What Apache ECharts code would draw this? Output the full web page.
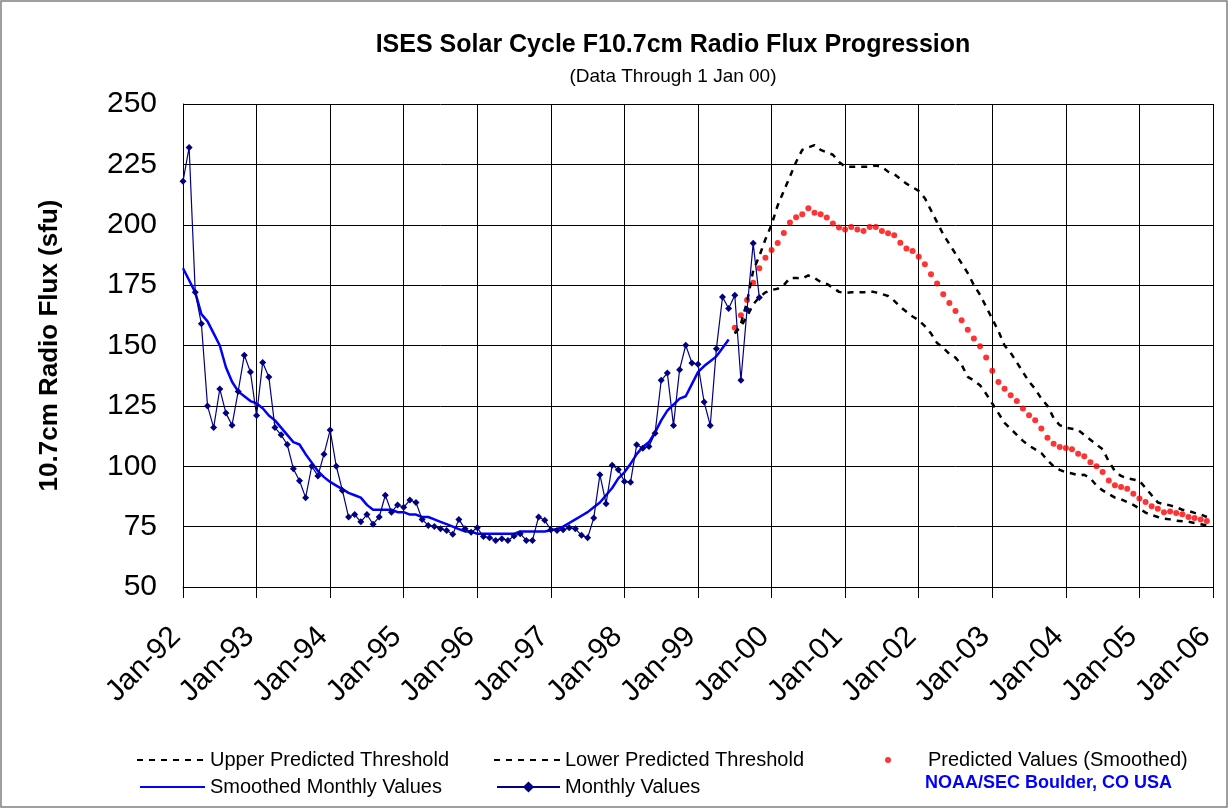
<!DOCTYPE html>
<html>
<head>
<meta charset="utf-8">
<title>ISES Solar Cycle F10.7cm Radio Flux Progression</title>
<script src="https://cdn.jsdelivr.net/npm/echarts@6/dist/echarts.min.js"></script>
<style>
  html, body { margin: 0; padding: 0; background: #fff; }
  #chart { width: 1230px; height: 810px; }
</style>
</head>
<body>
<div id="chart"></div>
<script>
// x axis: months counted from Jan-92, one label per year
var tickLabels = ['Jan-92', 'Jan-93', 'Jan-94', 'Jan-95', 'Jan-96', 'Jan-97', 'Jan-98',
    'Jan-99', 'Jan-00', 'Jan-01', 'Jan-02', 'Jan-03', 'Jan-04', 'Jan-05', 'Jan-06'];

// monthly observed flux, Jan-92 .. Nov-99
var monthly = [
    218, 232, 172, 159, 125, 116, 132, 122, 117, 131,
    146, 139, 121, 143, 137, 116, 113, 109, 99, 94,
    87, 100, 96, 105, 115, 100, 90, 79, 80, 77,
    80, 76, 79, 88, 81, 84, 83, 86, 85, 78,
    75.5, 75.1, 74.1, 73.4, 71.8, 78, 74.1, 72.7, 74.5, 70.9,
    70.4, 69.3, 70, 69.3, 71.1, 72.1, 69.3, 69.3, 79, 77.6,
    73.7, 73.4, 73.7, 74.5, 74.1, 71.4, 70.4, 78.6, 96.5, 84.5,
    100.4, 98.6, 93.7, 93.4, 108.9, 107.5, 108.2, 113.7, 135.6, 138.6,
    116.9, 140, 150.1, 142.8, 142.2, 126.6, 116.9, 148.7, 170.1, 165.3,
    170.8, 135.6, 164.9, 192.3, 169.9
];

// smoothed monthly values, Jan-92 .. Jun-99
var smoothed = [
    182, 177, 172, 163, 160, 155, 150, 141, 135, 131,
    129, 127, 126, 124, 121, 119, 116, 113, 110, 109,
    105, 101.5, 98, 95.5, 93.5, 92, 90.5, 89, 88, 87,
    84, 82, 82, 82, 82, 81, 81, 80, 80, 79,
    79, 78, 77, 76, 75, 74, 73, 73, 72, 72,
    72, 72, 72, 72, 72, 73, 73, 73, 73, 73,
    73.5, 74, 75, 76.5, 78, 79.5, 81, 83, 85, 88,
    91, 95, 97.5, 101, 105, 108, 110, 114, 119, 123,
    125.5, 128, 129, 134, 139, 141.5, 143.5, 145.5, 149, 152.5
];

// predictions start at Jul-99 (month 90)
var predStart = 90;

var predicted = [
    157.4, 162.5, 168.8, 176, 182, 186.3, 189.5, 192.4, 196.6, 200.9,
    203.1, 204.3, 206.8, 205, 204.3, 203, 200.5, 198.9, 198, 199.1,
    198, 197.4, 199.1, 199.1, 197.4, 196.5, 195.7, 192.5, 190.2, 189.1,
    186.7, 183.6, 179.5, 175.7, 171.2, 167.6, 164.3, 160.5, 156.5, 152.9,
    149.7, 145, 139.5, 134.9, 132.1, 129.4, 127, 123.9, 121.1, 119,
    115.6, 111.8, 109.3, 108, 107.6, 107, 105.2, 104.1, 101.7, 100,
    97.6, 94.1, 92.1, 91.4, 90.7, 88.6, 86.6, 85.2, 83.4, 82.4,
    81, 81.3, 80.6, 80.1, 79, 78.6, 77.9, 77.3
];

var upper = [
    155, 159, 168, 181, 187, 194, 200, 208, 214, 220,
    226, 231, 232, 233, 231, 230, 229, 226, 224, 224,
    224, 224, 224, 224.5, 224, 222, 221, 219, 217, 215.5,
    214, 211, 206, 201, 196, 192, 188, 184, 180, 175,
    171, 166, 161, 156, 150, 147, 143, 139, 135, 132,
    128, 125, 120, 117, 116, 115.5, 115, 113, 111, 109,
    107, 102, 98, 96, 95, 94.5, 94, 91, 88, 85,
    84.3, 83.8, 83, 82, 81.5, 80.7, 80, 79
];

var lower = [
    155, 158, 162, 167, 170, 172, 173, 173.5, 175, 178,
    178, 177.7, 179, 178, 176.3, 175.5, 174, 172.2, 171.8, 172,
    172, 172, 172.5, 172, 171.3, 170.5, 168.5, 166, 164, 162,
    160.5, 158, 155, 151, 149, 146.5, 145, 142, 137, 135.5,
    133.5, 130, 126, 122, 118, 115.5, 113, 110.5, 108.5, 107,
    105.5, 102.5, 100, 98.5, 97.5, 97, 96.3, 96.5, 95, 92,
    90, 88.5, 87, 86.3, 85.2, 84, 82.5, 80.8, 79.8, 79,
    78.3, 78, 77.5, 77.2, 77, 76.5, 76, 75.5
];

function pairs(arr, start) {
    return arr.map(function (v, i) { return [start + i, v]; });
}

var FONT = 'Liberation Sans, Arial, sans-serif';

var myChart = echarts.init(document.getElementById('chart'));

var legendText = { fontFamily: FONT, fontSize: 20, color: '#000' };
// line-only legend icons (no symbol in the middle)
var noDot = { opacity: 0 };

var option = {
    animation: false,
    backgroundColor: '#fff',
    title: {
        text: 'ISES Solar Cycle F10.7cm Radio Flux Progression',
        subtext: '(Data Through 1 Jan 00)',
        left: 668,
        top: 28,
        textAlign: 'center',
        itemGap: 9,
        textStyle: { fontFamily: FONT, fontSize: 25, fontWeight: 'bold', color: '#000' },
        subtextStyle: { fontFamily: FONT, fontSize: 19, color: '#000' }
    },
    grid: { left: 183, right: 17, top: 104, bottom: 223 },
    legend: [
        { data: ['Upper Predicted Threshold'], left: 131, top: 745, itemWidth: 68, itemHeight: 14, itemStyle: noDot, textStyle: legendText, selectedMode: false },
        { data: ['Lower Predicted Threshold'], left: 488, top: 745, itemWidth: 66, itemHeight: 14, itemStyle: noDot, textStyle: legendText, selectedMode: false },
        { data: ['Predicted Values (Smoothed)'], left: 880, top: 745, itemWidth: 70, itemHeight: 6, textStyle: legendText, selectedMode: false },
        { data: ['Smoothed Monthly Values'], left: 134, top: 772, itemWidth: 65, itemHeight: 14, itemStyle: noDot, textStyle: legendText, selectedMode: false },
        { data: ['Monthly Values'], left: 491, top: 772, itemWidth: 63, itemHeight: 14, textStyle: legendText, selectedMode: false }
    ],
    graphic: [
        {
            type: 'rect',
            shape: { x: 1, y: 1, width: 1226, height: 806 },
            style: { fill: 'none', stroke: '#7f7f7f', lineWidth: 1.5 },
            silent: true
        },
        {
            type: 'text',
            left: 925,
            top: 774,
            style: {
                text: 'NOAA/SEC Boulder, CO USA',
                fill: '#0000ff',
                font: 'bold 18px Liberation Sans, Arial, sans-serif'
            }
        }
    ],
    xAxis: {
        type: 'value',
        min: 0,
        max: 168,
        interval: 12,
        axisLine: { show: true, lineStyle: { color: '#000', width: 1 } },
        axisTick: { show: true, length: 11, lineStyle: { color: '#000' } },
        splitLine: { show: true, lineStyle: { color: '#000', width: 1 } },
        axisLabel: {
            rotate: 45,
            margin: 38,
            padding: [0, 10, 0, 0],
            fontFamily: FONT,
            fontSize: 30,
            color: '#000',
            formatter: function (v) { return tickLabels[v / 12]; }
        }
    },
    yAxis: {
        type: 'value',
        min: 50,
        max: 250,
        interval: 25,
        name: '10.7cm Radio Flux (sfu)',
        nameLocation: 'middle',
        nameRotate: 90,
        nameGap: 120,
        nameTextStyle: { fontFamily: FONT, fontSize: 26, fontWeight: 'bold', color: '#000' },
        axisLine: { show: true, lineStyle: { color: '#000', width: 1 } },
        axisTick: { show: false },
        splitLine: { show: true, lineStyle: { color: '#000', width: 1 } },
        axisLabel: { margin: 26, fontFamily: FONT, fontSize: 30, color: '#000' }
    },
    series: [
        {
            name: 'Upper Predicted Threshold',
            type: 'line',
            data: pairs(upper, predStart),
            symbol: 'none',
            lineStyle: { color: '#000', width: 2.5, type: [6, 6] },
            itemStyle: { color: '#000' }
        },
        {
            name: 'Lower Predicted Threshold',
            type: 'line',
            data: pairs(lower, predStart),
            symbol: 'none',
            lineStyle: { color: '#000', width: 2.5, type: [6, 6] },
            itemStyle: { color: '#000' }
        },
        {
            name: 'Predicted Values (Smoothed)',
            type: 'scatter',
            data: pairs(predicted, predStart),
            symbol: 'circle',
            symbolSize: 6,
            itemStyle: { color: '#ff0000' }
        },
        {
            name: 'Smoothed Monthly Values',
            type: 'line',
            data: pairs(smoothed, 0),
            symbol: 'none',
            lineStyle: { color: '#0000ff', width: 2.5 },
            itemStyle: { color: '#0000ff' }
        },
        {
            name: 'Monthly Values',
            type: 'line',
            data: pairs(monthly, 0),
            symbol: 'diamond',
            symbolSize: 7,
            lineStyle: { color: '#000080', width: 1.2 },
            itemStyle: { color: '#000080' }
        }
    ]
};

myChart.setOption(option);
</script>
</body>
</html>
